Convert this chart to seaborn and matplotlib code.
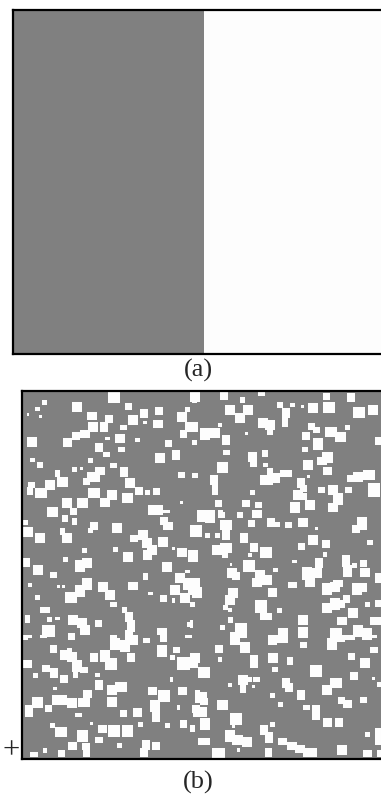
import numpy as np
import pandas as pd
import seaborn as sns
import matplotlib
matplotlib.use("Agg")
import matplotlib.pyplot as plt
from matplotlib.colors import ListedColormap

# ---------------- data ----------------
# panel (a): two cells, left gray (0), right white (1)
panel_a_values = [[0, 1]]

# panel (b): white squares, as (x0, x1, y0, y1) in image pixels
panel_b_origin = (22, 391)   # top-left of the panel in image pixels
panel_b_size = 368
white_squares = [
    (108,120,392,403),(42,47,400,405),(35,40,407,411),(27,29,413,416),(39,42,415,418),
    (72,82,402,412),(125,132,403,410),(87,97,412,420),(140,148,409,418),(155,163,407,415),
    (177,187,412,422),(185,195,422,432),(185,190,407,412),(192,197,397,403),(105,113,415,423),
    (128,138,415,425),(153,163,420,428),(143,147,421,424),(88,98,422,432),(100,108,422,432),
    (80,90,430,438),(72,80,432,440),(120,127,425,430),(63,72,438,447),(27,37,437,447),
    (115,125,434,443),(105,110,437,440),(135,140,438,442),(180,187,430,438),(95,103,443,452),
    (103,110,452,457),(118,125,447,452),(165,172,440,447),(172,180,450,460),(155,165,453,463),
    (192,197,440,445),(30,35,458,462),(37,43,462,468),(88,93,458,463),(72,77,467,472),
    (80,83,467,470),(95,105,467,475),(110,117,463,468),(120,128,467,477),(125,135,478,488),
    (178,185,472,478),(192,197,473,478),(55,60,470,477),(57,68,477,487),(87,100,472,482),
    (83,90,478,485),(45,55,480,490),(28,35,482,488),(35,47,488,498),(27,33,487,495),
    (135,143,487,495),(145,150,490,495),(153,160,488,495),(88,100,488,498),(107,117,490,500),
    (122,133,493,503),(100,110,498,507),(77,88,498,508),(62,72,498,508),(180,183,501,504),
    (148,163,505,515),(47,58,507,515),(70,77,508,515),
    (190,200,392,402),(220,228,392,400),(240,245,397,403),(258,265,392,396),(277,283,402,408),
    (290,295,403,407),(301,304,405,408),(308,318,403,413),(323,330,393,400),(323,335,402,413),
    (347,355,393,402),(353,365,407,418),(368,378,405,415),(225,235,405,415),(243,253,405,415),
    (235,245,413,423),(282,290,408,418),(282,288,417,427),(258,268,418,428),(265,275,420,430),
    (267,273,428,435),(190,198,422,432),(200,210,428,440),(210,220,428,438),(218,222,423,427),
    (222,230,435,445),(245,248,432,435),(308,315,423,430),(313,320,427,433),(325,337,427,437),
    (335,346,432,442),(345,350,425,430),(302,310,432,440),(313,323,438,450),(375,382,437,445),
    (223,230,450,455),(248,257,452,462),(250,257,460,467),(262,268,450,457),(302,308,447,452),
    (322,333,452,463),(317,327,457,465),(303,313,460,470),(217,228,462,473),(263,268,463,467),
    (267,273,468,485),(260,270,475,485),(272,280,473,483),(280,292,470,477),(297,305,478,488),
    (300,307,485,492),(307,310,475,478),(323,332,467,475),(193,198,473,478),(210,218,475,485),
    (212,218,485,495),(347,353,475,482),(353,363,472,482),(363,375,470,480),(368,380,483,497),
    (250,255,490,495),(293,303,490,500),(300,307,493,500),(318,325,487,493),(328,338,485,495),
    (333,343,493,505),(345,352,487,493),(215,222,500,507),(242,250,500,507),(255,262,502,508),
    (290,300,502,512),(305,315,500,510),(197,215,510,515),(218,223,510,515),(237,243,512,515),
    (328,338,503,512),
    (47,58,510,517),(62,68,515,522),(70,77,510,515),(72,77,518,525),(90,98,522,530),
    (88,93,528,533),(112,122,523,533),(148,160,510,515),(163,170,510,513),(160,168,517,525),
    (163,173,522,530),(192,200,525,535),(23,33,527,537),(23,28,520,525),(35,45,533,543),
    (60,65,528,535),(62,72,533,543),(138,148,530,540),(130,138,535,542),(142,152,538,548),
    (147,157,545,555),(158,168,537,547),(172,175,547,550),(177,187,548,557),(188,198,550,562),
    (82,87,548,553),(113,118,547,552),(123,133,552,562),(143,152,550,560),(23,30,558,567),
    (63,68,557,562),(75,85,560,572),(82,92,558,568),(33,43,565,575),(162,172,562,572),
    (50,57,572,578),(143,148,573,580),(175,185,573,583),(183,195,578,590),(170,180,585,595),
    (180,190,593,603),(188,197,585,595),(185,190,570,573),(82,92,578,590),(75,85,585,597),
    (65,77,592,603),(98,108,582,592),(105,115,590,600),(128,138,582,590),(57,60,585,588),
    (62,65,585,588),(28,32,583,587),(148,153,592,595),(35,40,595,600),(160,167,595,602),
    (172,175,598,603),(110,117,602,607),(40,50,607,613),(122,127,607,613),(125,133,612,622),
    (127,135,620,632),(125,133,630,640),(25,30,615,623),(47,52,617,622),(55,60,617,620),
    (68,78,615,625),(77,87,618,628),(80,90,625,635),(95,102,620,627),(42,55,625,637),
    (157,167,628,635),(187,193,622,627),(110,117,635,640),(68,75,633,640),(23,28,635,640),
    (197,207,512,522),(205,215,513,523),(218,225,512,518),(220,232,520,530),(237,243,512,518),
    (252,262,510,518),(248,255,520,527),(267,275,518,527),(275,280,522,527),(285,292,522,528),
    (298,308,518,527),(290,300,510,513),(328,338,510,512),(357,367,517,530),(352,360,525,533),
    (190,202,525,537),(205,210,533,538),(215,220,533,538),(222,230,530,540),(240,248,533,543),
    (308,318,535,545),(315,318,527,530),(298,305,543,550),(322,330,540,548),(367,373,540,545),
    (212,222,545,555),(220,232,543,553),(222,228,552,558),(250,258,543,552),(260,272,547,558),
    (248,252,553,557),(190,198,552,562),(323,327,552,557),(342,350,555,567),(343,352,565,577),
    (352,357,563,568),(360,367,560,567),(243,255,560,572),(292,297,560,563),(315,323,558,568),
    (302,312,567,580),(312,322,568,578),(305,315,578,587),(227,237,568,578),(232,240,572,580),
    (230,232,563,566),(255,265,570,580),(262,272,575,585),(252,262,578,587),(273,278,568,572),
    (360,370,568,577),(375,382,573,583),(288,297,582,588),(190,200,578,590),(192,202,587,598),
    (322,332,583,595),(330,340,582,592),(333,343,580,587),(352,362,583,595),(358,367,583,592),
    (268,277,588,597),(228,238,588,598),(225,235,595,605),(343,350,595,603),(322,332,603,613),
    (330,340,598,610),(338,345,600,608),(375,382,600,607),(190,195,602,607),(223,228,605,610),
    (228,232,608,612),(255,267,600,613),(277,282,608,613),(365,370,602,607),(348,358,608,618),
    (260,272,613,620),(298,308,615,625),(228,233,617,623),(190,193,620,628),(337,347,617,625),
    (370,382,617,625),(220,225,625,630),(235,247,623,638),(230,237,632,640),(278,288,628,640),
    (298,308,627,638),(330,342,628,640),(353,363,625,637),(362,372,628,640),(268,275,635,640),
    (28,32,635,638),(40,47,635,638),(50,57,645,653),(60,70,650,660),(67,77,652,662),
    (67,72,648,652),(90,98,653,662),(100,110,650,662),(105,117,658,670),(110,120,638,650),
    (120,130,640,652),(128,138,635,645),(127,135,653,662),(143,150,638,643),(157,167,645,657),
    (160,167,635,642),(173,180,647,653),(170,175,655,660),(177,190,657,670),(190,200,653,663),
    (185,192,635,638),(23,32,660,668),(42,50,665,672),(50,58,668,678),(60,68,675,683),
    (72,82,660,672),(80,88,667,673),(73,78,668,678),(33,38,673,678),(53,57,687,690),
    (95,100,673,677),(95,103,680,690),(107,117,685,695),(115,127,682,692),(170,173,677,682),
    (178,187,687,695),(148,157,687,695),(158,170,690,702),(195,200,690,700),(52,67,695,705),
    (83,92,690,698),(32,43,697,708),(25,33,705,717),(45,52,705,712),(67,77,698,708),
    (78,90,698,707),(107,117,697,707),(150,160,700,712),(152,160,710,722),(177,180,705,710),
    (120,127,710,717),(133,142,708,717),(75,82,713,717),(192,200,705,713),(50,55,723,728),
    (90,93,722,725),(165,170,723,728),(180,187,720,728),(190,195,725,730),(138,143,722,727),
    (55,67,727,737),(77,88,730,742),(98,107,725,733),(108,120,725,737),(122,133,725,737),
    (95,103,737,743),(68,77,742,750),(82,90,743,750),(117,122,743,748),(142,150,740,750),
    (140,148,748,757),(152,160,742,750),(58,65,750,757),(30,38,752,757),(83,90,750,757),
    (43,47,748,753),
    (230,240,635,645),(240,250,642,653),(268,277,635,645),(277,288,635,643),(300,307,642,648),
    (300,308,635,638),(327,337,638,650),(332,345,635,642),(345,355,635,640),(363,377,635,638),
    (215,223,645,653),(190,198,653,668),(218,222,657,662),(250,258,655,668),(268,278,653,663),
    (287,293,657,665),(310,322,665,677),(348,355,653,660),(360,370,658,668),(370,378,647,653),
    (198,210,667,678),(272,278,667,672),(350,358,672,680),(372,375,677,680),(238,248,675,685),
    (240,246,683,693),(248,252,677,682),(253,260,677,682),(228,232,683,687),(252,255,685,688),
    (282,290,678,688),(285,293,683,692),(322,332,685,695),(330,342,678,688),(297,305,690,700),
    (377,382,682,687),(195,207,692,703),(200,208,698,705),(217,228,700,710),(270,275,693,698),
    (278,283,702,707),(338,345,697,704),(343,352,700,708),(360,367,697,703),(303,310,705,710),
    (312,320,705,720),(193,207,707,717),(230,242,713,725),(323,332,718,727),(335,343,718,727),
    (270,275,722,727),(200,210,718,730),(190,195,725,732),(260,268,725,735),(265,273,732,743),
    (225,235,730,742),(232,243,735,745),(232,235,725,728),(242,252,737,747),(365,370,732,737),
    (375,382,728,745),(198,210,738,745),(278,287,738,745),(287,297,742,750),(295,305,745,753),
    (303,317,748,757),(212,225,748,758),(237,240,748,752),(265,272,748,757),(337,347,745,755),
    (363,372,750,757),(377,382,750,757),
]

panel_labels = ["(a)", "(b)"]
marker_label = "+"

# ---------------- figure ----------------
W, H = 381, 794
fig = plt.figure(figsize=(W / 100, H / 100), dpi=100)
sns.set_style("white")
serif = ["Liberation Serif", "DejaVu Serif"]
plt.rcParams["font.family"] = serif

gray = "#808080"
white = "#fdfdfd"
cmap = ListedColormap([gray, white])


def px_axes(x0, y0, w, h):
    return fig.add_axes([x0 / W, 1 - (y0 + h) / H, w / W, h / H])


# panel (a)
ax_a = px_axes(13, 10, 382, 344)
sns.heatmap(pd.DataFrame(panel_a_values), ax=ax_a, cmap=cmap, vmin=0, vmax=1,
            cbar=False, xticklabels=False, yticklabels=False)
for s in ax_a.spines.values():
    s.set_visible(True)
    s.set_color("black")
    s.set_linewidth(1.6)

# panel (b)
ox, oy = panel_b_origin
grid = np.zeros((panel_b_size, panel_b_size))
for x0, x1, y0, y1 in white_squares:
    c0, c1 = max(x0 - ox, 0), min(x1 - ox, panel_b_size)
    r0, r1 = max(y0 - oy, 0), min(y1 - oy, panel_b_size)
    grid[r0:r1, c0:c1] = 1

ax_b = px_axes(22, 391, 368, 368)
sns.heatmap(grid, ax=ax_b, cmap=cmap, vmin=0, vmax=1, cbar=False,
            xticklabels=False, yticklabels=False, rasterized=True)
for s in ax_b.spines.values():
    s.set_visible(True)
    s.set_color("black")
    s.set_linewidth(1.6)

fig.text(198 / W, 1 - 370 / H, panel_labels[0], ha="center", va="center",
         fontsize=19, family=serif)
fig.text(198 / W, 1 - 782 / H, panel_labels[1], ha="center", va="center",
         fontsize=19, family=serif)
fig.text(11.5 / W, 1 - 751 / H, marker_label, ha="center", va="center",
         fontsize=22, family=serif)

fig.savefig("out.png", dpi=100)
